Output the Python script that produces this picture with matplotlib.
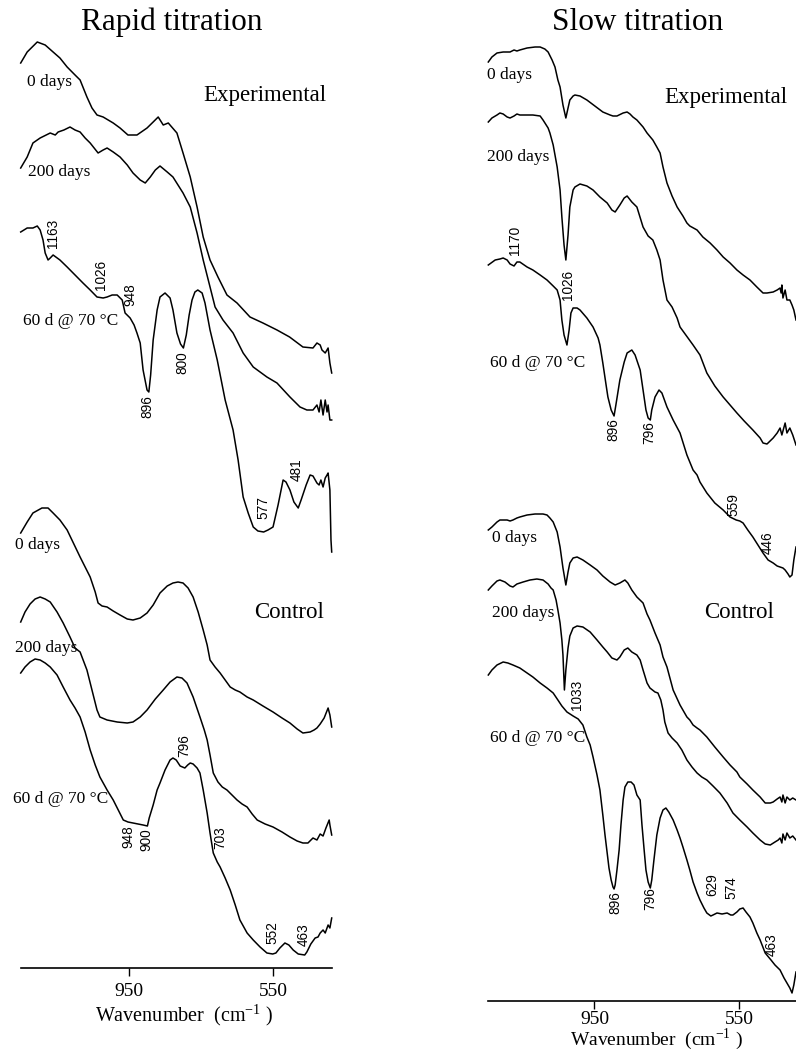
import numpy as np
import matplotlib
matplotlib.use("Agg")
import matplotlib.pyplot as plt

plt.rcParams["font.family"] = ["Liberation Serif", "DejaVu Serif"]
plt.rcParams["mathtext.fontset"] = "custom"
plt.rcParams["mathtext.rm"] = "Liberation Serif"

# FTIR spectra, (wavenumber cm-1, offset transmittance) pairs
# --- rapid titration, experimental ---
rapid_exp_0d = [(1252, 905), (1234, 916), (1206, 926), (1184, 923), (1162, 916), (1143, 910), (1123, 901),
                (1101, 893), (1087, 888), (1068, 871), (1054, 860), (1040, 853), (1023, 851), (995, 845),
                (976, 840), (954, 833), (929, 833), (901, 840), (884, 846), (870, 851), (856, 843), (842, 845),
                (818, 835), (801, 815), (781, 791), (762, 761), (745, 731), (726, 708), (704, 691), (679, 673),
                (651, 665), (615, 651), (579, 645), (540, 638), (505, 631), (468, 621), (440, 620), (429, 625),
                (420, 623), (415, 618), (406, 615), (398, 620), (393, 605), (388, 595)]
rapid_exp_200d = [(1252, 800), (1234, 811), (1218, 825), (1198, 830), (1170, 835), (1156, 833), (1148, 836),
                  (1132, 838), (1115, 841), (1101, 838), (1087, 836), (1073, 830), (1059, 825), (1037, 815),
                  (1023, 818), (1012, 820), (995, 816), (976, 811), (956, 803), (940, 795), (920, 788),
                  (906, 785), (892, 791), (878, 798), (865, 802), (845, 796), (829, 791), (801, 775),
                  (781, 761), (762, 735), (745, 708), (726, 681), (712, 661), (690, 648), (662, 635),
                  (634, 615), (606, 601), (568, 591), (540, 585), (504, 571), (476, 561), (457, 558),
                  (440, 558), (429, 563), (423, 556), (418, 568), (412, 553), (406, 568), (401, 556),
                  (398, 563), (393, 548), (388, 548)]
rapid_exp_60d = [(1252, 736), (1234, 740), (1218, 740), (1206, 742), (1198, 738), (1190, 728), (1184, 715),
                 (1176, 708), (1170, 710), (1162, 713), (1143, 708), (1123, 701), (1101, 693), (1079, 685),
                 (1059, 678), (1040, 671), (1023, 670), (1012, 671), (998, 673), (984, 673), (970, 668),
                 (962, 655), (948, 650), (937, 643), (929, 635), (920, 625), (912, 598), (901, 578),
                 (896, 576), (891, 593), (884, 628), (873, 658), (865, 671), (851, 675), (837, 670),
                 (829, 658), (818, 635), (808, 624), (800, 620), (792, 633), (784, 653), (776, 668),
                 (768, 676), (760, 678), (748, 675), (740, 665), (726, 638), (706, 608), (684, 568),
                 (662, 538), (648, 508), (634, 471), (620, 455), (606, 441), (593, 437), (577, 436),
                 (565, 438), (551, 441), (537, 463), (523, 488), (515, 486), (504, 478), (493, 466),
                 (481, 460), (473, 468), (459, 483), (448, 493), (440, 492), (429, 485), (423, 483),
                 (418, 488), (412, 481), (406, 490), (401, 493), (398, 495), (393, 478), (390, 428),
                 (388, 416)]
# --- rapid titration, control ---
rapid_ctl_0d = [(1252, 435), (1234, 446), (1218, 455), (1193, 460), (1176, 460), (1162, 455), (1143, 448),
                (1123, 438), (1107, 426), (1087, 411), (1073, 401), (1059, 391), (1045, 376), (1037, 365),
                (1026, 362), (1012, 361), (995, 357), (976, 353), (956, 349), (940, 348), (920, 350),
                (901, 355), (884, 363), (865, 375), (845, 382), (829, 385), (815, 386), (801, 385),
                (787, 380), (773, 371), (759, 356), (745, 338), (734, 323), (726, 308), (712, 301),
                (698, 295), (684, 288), (670, 281), (656, 278), (643, 276), (623, 271), (606, 268),
                (579, 262), (551, 256), (526, 250), (504, 245), (484, 239), (468, 235), (448, 236),
                (437, 238), (429, 240), (420, 244), (409, 250), (398, 260), (393, 253), (388, 241)]
rapid_ctl_200d = [(1252, 346), (1240, 356), (1226, 364), (1212, 369), (1198, 371), (1184, 369), (1170, 366),
                  (1151, 356), (1134, 345), (1115, 331), (1101, 320), (1087, 316), (1068, 298), (1054, 278),
                  (1040, 258), (1032, 251), (1012, 248), (984, 246), (956, 245), (940, 246), (920, 251),
                  (901, 258), (878, 269), (856, 278), (837, 286), (818, 291), (804, 290), (790, 285),
                  (773, 271), (754, 251), (742, 238), (734, 228), (726, 213), (717, 195), (704, 186),
                  (692, 181), (679, 178), (665, 173), (651, 168), (637, 164), (623, 161), (609, 154),
                  (595, 148), (573, 144), (551, 141), (526, 136), (504, 131), (484, 127), (468, 125),
                  (454, 125), (440, 130), (429, 128), (420, 134), (412, 132), (404, 140), (395, 148),
                  (393, 143), (388, 133)]
rapid_ctl_60d = [(1252, 295), (1240, 301), (1226, 306), (1212, 309), (1198, 308), (1184, 305), (1170, 301),
                 (1151, 293), (1134, 281), (1115, 268), (1101, 260), (1087, 251), (1073, 236), (1059, 218),
                 (1045, 203), (1032, 191), (1012, 178), (995, 168), (981, 158), (967, 148), (954, 146),
                 (940, 145), (926, 144), (912, 143), (900, 142), (895, 150), (884, 163), (873, 178),
                 (865, 185), (851, 198), (837, 208), (829, 210), (820, 208), (809, 202), (796, 200),
                 (788, 203), (781, 205), (773, 204), (762, 200), (754, 195), (745, 178), (734, 155),
                 (726, 135), (717, 115), (706, 106), (698, 101), (684, 90), (670, 78), (656, 63),
                 (643, 48), (623, 35), (606, 28), (587, 21), (568, 15), (552, 14), (543, 15), (532, 20),
                 (518, 25), (507, 23), (495, 18), (481, 14), (463, 13), (457, 16), (446, 24), (434, 30),
                 (426, 31), (420, 35), (412, 38), (406, 35), (398, 43), (393, 40), (388, 50)]
# --- slow titration, experimental ---
slow_exp_0d = [(1243, 939), (1233, 944), (1219, 948), (1202, 949), (1183, 949), (1172, 951), (1164, 950),
               (1156, 951), (1136, 953), (1114, 954), (1100, 954), (1087, 952), (1078, 949), (1067, 941),
               (1059, 934), (1051, 921), (1045, 914), (1037, 896), (1029, 883), (1023, 893), (1018, 901),
               (1009, 905), (1004, 906), (990, 905), (971, 901), (949, 895), (927, 889), (907, 886),
               (899, 885), (888, 885), (871, 888), (860, 889), (852, 887), (844, 884), (833, 881),
               (816, 874), (805, 868), (789, 861), (778, 854), (769, 848), (761, 834), (750, 818),
               (736, 805), (722, 794), (706, 785), (695, 778), (687, 775), (667, 771), (651, 764),
               (631, 758), (612, 751), (595, 744), (576, 738), (557, 731), (540, 726), (521, 721),
               (502, 714), (485, 708), (474, 708), (457, 709), (446, 711), (438, 713), (435, 708),
               (433, 716), (430, 703), (424, 711), (419, 701), (411, 701), (405, 696), (400, 691),
               (394, 681)]
slow_exp_200d = [(1243, 879), (1233, 883), (1219, 886), (1211, 888), (1202, 887), (1191, 884), (1183, 883),
                 (1172, 885), (1164, 887), (1156, 886), (1136, 886), (1120, 886), (1100, 885), (1092, 881),
                 (1078, 873), (1073, 868), (1064, 856), (1053, 834), (1045, 811), (1040, 784), (1034, 756),
                 (1029, 741), (1023, 766), (1018, 794), (1009, 811), (1004, 814), (990, 817), (971, 815),
                 (954, 811), (935, 804), (915, 798), (902, 791), (893, 789), (880, 796), (868, 803),
                 (860, 805), (847, 799), (833, 794), (816, 774), (802, 765), (789, 761), (778, 751),
                 (769, 741), (761, 721), (750, 701), (736, 694), (722, 683), (714, 674), (692, 663),
                 (678, 656), (659, 646), (640, 628), (618, 615), (595, 604), (576, 596), (557, 588),
                 (537, 580), (513, 571), (493, 563), (485, 558), (474, 557), (457, 563), (446, 568),
                 (438, 573), (433, 566), (424, 578), (419, 568), (411, 573), (403, 566), (394, 556)]
slow_exp_60d = [(1243, 736), (1224, 741), (1211, 742), (1202, 743), (1191, 741), (1183, 737), (1172, 735),
                (1164, 739), (1156, 739), (1136, 734), (1120, 731), (1100, 726), (1081, 721), (1064, 715),
                (1053, 711), (1045, 701), (1040, 681), (1034, 666), (1026, 656), (1020, 671), (1015, 688),
                (1009, 693), (998, 693), (990, 691), (971, 683), (954, 674), (940, 663), (935, 656),
                (927, 638), (918, 616), (913, 604), (904, 591), (896, 585), (891, 596), (880, 621),
                (868, 639), (860, 648), (847, 651), (838, 646), (824, 631), (816, 611), (808, 591),
                (802, 583), (796, 581), (792, 591), (783, 604), (772, 611), (764, 608), (750, 594),
                (733, 581), (714, 568), (695, 546), (678, 531), (667, 526), (659, 519), (640, 508),
                (618, 498), (595, 491), (576, 484), (559, 481), (549, 480), (540, 478), (527, 471),
                (513, 464), (499, 456), (485, 448), (471, 441), (457, 438), (446, 435), (430, 433),
                (424, 431), (416, 427), (411, 424), (405, 426), (400, 441), (394, 454)]
# --- slow titration, control ---
slow_ctl_0d = [(1243, 471), (1233, 474), (1219, 479), (1211, 481), (1191, 481), (1183, 480), (1175, 481),
               (1164, 483), (1156, 484), (1136, 486), (1114, 487), (1092, 487), (1081, 486), (1073, 483),
               (1064, 479), (1053, 469), (1045, 454), (1037, 433), (1029, 416), (1023, 429), (1018, 438),
               (1009, 443), (998, 444), (982, 441), (962, 436), (943, 431), (927, 425), (907, 419),
               (893, 416), (880, 418), (866, 421), (858, 418), (847, 411), (833, 404), (816, 398),
               (805, 387), (797, 381), (783, 368), (769, 356), (761, 344), (750, 334), (733, 311),
               (714, 296), (695, 284), (687, 281), (678, 276), (667, 273), (659, 271), (640, 264),
               (618, 254), (595, 244), (576, 236), (557, 229), (549, 224), (529, 217), (513, 211),
               (493, 204), (479, 198), (465, 198), (457, 199), (446, 202), (438, 204), (433, 199),
               (430, 206), (424, 198), (419, 204), (411, 201), (403, 203), (394, 201)]
slow_ctl_200d = [(1243, 411), (1233, 415), (1219, 420), (1211, 421), (1197, 419), (1183, 415), (1175, 414),
                 (1164, 417), (1147, 419), (1128, 421), (1109, 422), (1092, 421), (1078, 417), (1070, 413),
                 (1064, 411), (1056, 401), (1051, 391), (1045, 378), (1040, 361), (1037, 346), (1033, 311),
                 (1029, 331), (1023, 353), (1018, 365), (1009, 373), (998, 375), (982, 374), (962, 369),
                 (943, 361), (927, 354), (915, 349), (902, 343), (888, 341), (880, 344), (868, 351),
                 (858, 353), (847, 349), (833, 346), (824, 341), (816, 331), (805, 318), (797, 313),
                 (783, 309), (775, 308), (767, 301), (761, 291), (756, 279), (747, 268), (736, 263),
                 (722, 258), (709, 251), (695, 241), (681, 234), (667, 228), (654, 224), (640, 221),
                 (623, 215), (604, 208), (584, 198), (568, 188), (549, 181), (529, 174), (513, 168),
                 (493, 161), (479, 157), (465, 156), (452, 159), (443, 161), (438, 163), (433, 158),
                 (430, 167), (424, 161), (419, 168), (411, 163), (403, 165), (394, 161)]
slow_ctl_60d = [(1243, 326), (1233, 331), (1219, 336), (1202, 339), (1189, 338), (1175, 336), (1156, 333),
                (1136, 328), (1120, 324), (1100, 318), (1081, 313), (1064, 308), (1051, 301), (1040, 295),
                (1026, 289), (1009, 285), (995, 282), (982, 276), (971, 264), (962, 256), (954, 244),
                (943, 226), (935, 211), (927, 186), (921, 166), (915, 148), (910, 133), (904, 121),
                (899, 114), (896, 112), (893, 116), (888, 131), (882, 151), (877, 176), (871, 201),
                (866, 214), (858, 219), (849, 219), (841, 216), (833, 206), (824, 201), (819, 176),
                (813, 151), (808, 131), (802, 119), (796, 113), (792, 121), (786, 141), (778, 166),
                (769, 183), (761, 191), (753, 193), (745, 189), (733, 181), (722, 171), (714, 163),
                (706, 154), (695, 141), (687, 131), (678, 119), (667, 108), (659, 101), (648, 93),
                (640, 88), (629, 85), (623, 86), (612, 88), (598, 87), (584, 88), (574, 86), (568, 86),
                (557, 89), (549, 92), (540, 93), (532, 89), (521, 84), (513, 78), (502, 68), (493, 61),
                (479, 48), (463, 41), (452, 36), (438, 31), (427, 23), (419, 18), (411, 13), (405, 8),
                (400, 16), (394, 29)]

# band assignments: label, (wavenumber, height) where the label sits
rapid_exp_bands = ["1163", "1026", "948", "896", "800", "577", "481"]
rapid_exp_band_pos = [(1162, 735), (1028, 693), (948, 673), (901, 561), (803, 605), (579, 460), (484, 498)]
rapid_ctl_bands = ["948", "900", "796", "703", "552", "463"]
rapid_ctl_band_pos = [(953, 131), (903, 128), (797, 222), (698, 130), (554, 35), (465, 33)]
slow_exp_bands = ["1170", "1026", "896", "796", "559", "446"]
slow_exp_band_pos = [(1169, 761), (1023, 716), (899, 571), (800, 568), (568, 496), (471, 458)]
slow_ctl_bands = ["1033", "896", "796", "629", "574", "463"]
slow_ctl_band_pos = [(998, 306), (893, 98), (797, 102), (626, 116), (571, 113), (460, 56)]

W, H = 796, 1050
fig = plt.figure(figsize=(W / 100, H / 100), dpi=100)


def fx(x):
    return x / W


def fy(y):
    return 1 - y / H


def make_panel(x0, x1, ybase, xlim, spectra, bands, band_pos, pad):
    ax = fig.add_axes([fx(x0), fy(ybase), fx(x1 - x0), ybase / H])
    for s in spectra:
        w, t = np.array(s).T
        ax.plot(w, t, color="black", lw=1.1, clip_on=False)
    for lab, (w, t) in zip(bands, band_pos):
        ax.text(w, t, lab, rotation=90, ha="center", va="center", fontsize=9.8,
                family=["Liberation Sans", "DejaVu Sans"])
    ax.set_xlim(*xlim)
    ax.set_ylim(0, ybase)
    for side in ("left", "right", "top"):
        ax.spines[side].set_visible(False)
    ax.spines["bottom"].set_linewidth(1.2)
    ax.set_yticks([])
    ax.set_xticks([950, 550])
    ax.set_xticklabels(["950", "550"])
    ax.tick_params(axis="x", direction="out", length=6, width=1, pad=pad, labelsize=14)
    return ax


make_panel(20.7, 331.7, 968, (1252, 388),
           [rapid_exp_0d, rapid_exp_200d, rapid_exp_60d, rapid_ctl_0d, rapid_ctl_200d, rapid_ctl_60d],
           rapid_exp_bands + rapid_ctl_bands, rapid_exp_band_pos + rapid_ctl_band_pos, 5)
make_panel(488.3, 796, 1001, (1243, 394),
           [slow_exp_0d, slow_exp_200d, slow_exp_60d, slow_ctl_0d, slow_ctl_200d, slow_ctl_60d],
           slow_exp_bands + slow_ctl_bands, slow_exp_band_pos + slow_ctl_band_pos, 1)

# titles, curve names and axis labels
fig.text(fx(172), fy(22), "Rapid titration", ha="center", va="center", fontsize=22.5)
fig.text(fx(638), fy(23), "Slow titration", ha="center", va="center", fontsize=22.5)

xlab = "Wavenumber  (cm$^{\\mathregular{-1}}$ )"
fig.text(fx(184), fy(1015), xlab, ha="center", va="center", fontsize=14.5)
fig.text(fx(656), fy(1039), xlab, ha="center", va="center", fontsize=14)

small = 12.5
for x, y, s in [(27, 82, "0 days"), (28, 172, "200 days"), (23, 321, "60 d @ 70 \u00b0C"),
                (15, 545, "0 days"), (15, 648, "200 days"), (13, 799, "60 d @ 70 \u00b0C"),
                (487, 75, "0 days"), (487, 157, "200 days"), (490, 363, "60 d @ 70 \u00b0C"),
                (492, 538, "0 days"), (492, 613, "200 days"), (490, 738, "60 d @ 70 \u00b0C")]:
    fig.text(fx(x), fy(y), s, ha="left", va="center", fontsize=small)

for x, y, s in [(265, 95, "Experimental"), (289, 612, "Control"),
                (726, 97, "Experimental"), (739, 612, "Control")]:
    fig.text(fx(x), fy(y), s, ha="center", va="center", fontsize=16.5)

fig.savefig("out.png", dpi=100)
